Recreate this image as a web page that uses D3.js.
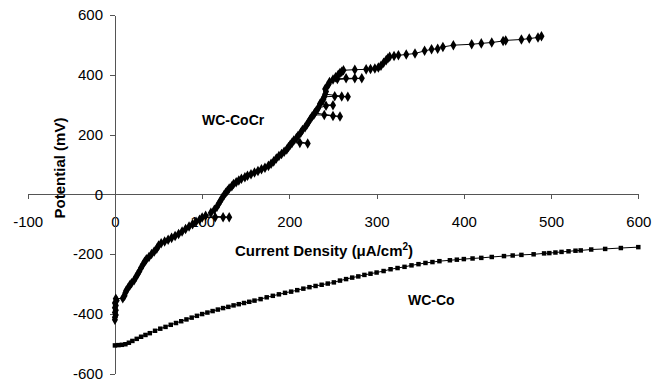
<!DOCTYPE html>
<html>
<head>
<meta charset="utf-8">
<script src="https://cdn.jsdelivr.net/npm/d3@7"></script>
<style>
  body { margin: 0; background: #fff; }
  svg { display: block; font-family: Arial, "Liberation Sans", sans-serif; }
  .axis path, .axis line { stroke: #555; shape-rendering: crispEdges; }
  .axis text { font-size: 15px; fill: #000; }
</style>
</head>
<body>
<svg id="chart" width="660" height="386"></svg>
<script>
// tick values
var xTicks = [-100, 0, 100, 200, 300, 400, 500, 600];
var yTicks = [-600, -400, -200, 0, 200, 400, 600];

// WC-Co series (current density uA/cm2, potential mV)
var wcCoX = [0, 4, 8, 12, 16, 20, 25, 30, 35, 40, 46, 52, 58, 64, 70, 76, 82, 88, 94, 100,
  106, 112, 118, 124, 130, 136, 142, 148, 154, 160, 167, 174, 181, 188, 195, 202, 209, 216, 223, 230,
  237, 244, 251, 258, 265, 272, 279, 286, 293, 300, 308, 316, 324, 332, 340, 348, 356, 364, 372, 384,
  392, 400, 410, 420, 432, 446, 456, 466, 480, 492, 498, 505, 512, 520, 528, 534, 546, 562, 580, 600];
var wcCoY = [-506, -505, -504, -502, -497, -491, -484, -477, -471, -465, -457, -450, -444, -437, -431, -425, -419, -413, -407, -401,
  -396, -391, -386, -381, -377, -372, -368, -364, -360, -356, -351, -345, -340, -335, -330, -326, -321, -316, -311, -307,
  -303, -299, -295, -289, -284, -279, -275, -270, -266, -262, -257, -251, -247, -243, -238, -234, -230, -227, -224, -221,
  -219, -217, -215, -213, -210, -207, -205, -203, -201, -198, -197, -195, -193, -191, -189, -188, -185, -183, -180, -177];

// WC-CoCr series (scan order, with current spikes)
var wcCoCrX = [0, 0, 1, 0, 1, 0, 1, 0, 2, 1, 9, 11, 12, 13, 15, 17, 19, 22, 24, 26,
  28, 30, 32, 34, 36, 39, 42, 45, 48, 50, 53, 57, 61, 65, 69, 73, 77, 81, 85, 89,
  93, 97, 100, 115, 124, 131, 104, 110, 114, 117, 119, 121, 123, 125, 127, 129, 131, 134, 136, 139,
  142, 145, 149, 152, 156, 160, 164, 168, 172, 176, 179, 182, 185, 188, 191, 194, 197, 199, 201, 203,
  212, 221, 205, 208, 210, 213, 215, 218, 220, 222, 224, 226, 228, 240, 250, 258, 229, 231, 233, 242,
  250, 235, 237, 239, 240, 252, 260, 267, 241, 242, 241, 243, 245, 246, 255, 265, 275, 283, 250, 253,
  256, 258, 260, 262, 275, 288, 293, 298, 302, 305, 308, 311, 313, 315, 320, 325, 334, 344, 355, 363,
  370, 376, 388, 409, 420, 432, 445, 448, 466, 475, 485, 489];
var wcCoCrY = [-420, -412, -404, -396, -388, -380, -372, -364, -356, -350, -348, -340, -330, -322, -314, -305, -298, -288, -278, -268,
  -258, -246, -236, -226, -218, -210, -200, -192, -182, -172, -164, -158, -152, -146, -140, -133, -125, -116, -108, -100,
  -92, -85, -78, -77, -77, -77, -72, -62, -52, -42, -32, -22, -12, -3, 5, 12, 19, 27, 34, 40,
  46, 52, 57, 62, 67, 73, 78, 84, 89, 95, 102, 110, 120, 128, 135, 142, 150, 158, 166, 172,
  172, 170, 180, 188, 196, 206, 215, 224, 233, 242, 252, 260, 266, 265, 262, 260, 272, 280, 288, 296,
  298, 302, 310, 318, 326, 328, 327, 326, 335, 344, 352, 360, 368, 376, 386, 388, 388, 388, 384, 392,
  400, 406, 410, 415, 417, 418, 419, 421, 424, 430, 440, 449, 455, 460, 463, 465, 468, 471, 480, 485,
  487, 493, 499, 502, 505, 508, 513, 515, 518, 521, 525, 529];

var svg = d3.select("#chart");

var x = d3.scaleLinear().domain([-100, 600]).range([27.7, 638.3]);
var y = d3.scaleLinear().domain([-600, 600]).range([373.5, 15]);

// x axis through y = 0
svg.append("g")
    .attr("class", "axis axis--x")
    .attr("transform", "translate(0," + Math.round(y(0)) + ")")
    .call(d3.axisBottom(x).tickValues(xTicks).tickFormat(d => String(d))
        .tickSize(5).tickPadding(17).tickSizeOuter(0));

// y axis through x = 0
svg.append("g")
    .attr("class", "axis axis--y")
    .attr("transform", "translate(" + Math.round(x(0)) + ",0)")
    .call(d3.axisLeft(y).tickValues(yTicks).tickFormat(d => String(d))
        .tickSize(5).tickPadding(7).tickSizeOuter(0));

function drawSeries(xs, ys, symbol, size) {
    var pts = xs.map(function(v, i) { return [v, ys[i]]; });
    svg.append("path")
        .datum(pts)
        .attr("fill", "none")
        .attr("stroke", "#000")
        .attr("stroke-width", 1)
        .attr("d", d3.line().x(d => x(d[0])).y(d => y(d[1])));
    svg.append("g").selectAll("path")
        .data(pts)
        .enter().append("path")
        .attr("transform", d => "translate(" + x(d[0]) + "," + y(d[1]) + ")")
        .attr("d", d3.symbol().type(symbol).size(size))
        .attr("fill", "#000");
}

drawSeries(wcCoX, wcCoY, d3.symbolSquare, 20);
drawSeries(wcCoCrX, wcCoCrY, d3.symbolDiamond, 32);

// axis titles
svg.append("text")
    .attr("transform", "translate(65,168) rotate(-90)")
    .attr("text-anchor", "middle")
    .style("font-size", "15px")
    .style("font-weight", "bold")
    .text("Potential (mV)");

var xt = svg.append("text")
    .attr("x", 324)
    .attr("y", 256)
    .attr("text-anchor", "middle")
    .style("font-size", "15px")
    .style("font-weight", "bold");
xt.append("tspan").text("Current Density (μA/cm");
xt.append("tspan").attr("dy", -6).style("font-size", "10px").text("2");
xt.append("tspan").attr("dy", 6).text(")");

// series labels
svg.append("text")
    .attr("x", 202).attr("y", 125)
    .style("font-size", "14px").style("font-weight", "bold")
    .text("WC-CoCr");
svg.append("text")
    .attr("x", 408).attr("y", 305)
    .style("font-size", "14px").style("font-weight", "bold")
    .text("WC-Co");
</script>
</body>
</html>
